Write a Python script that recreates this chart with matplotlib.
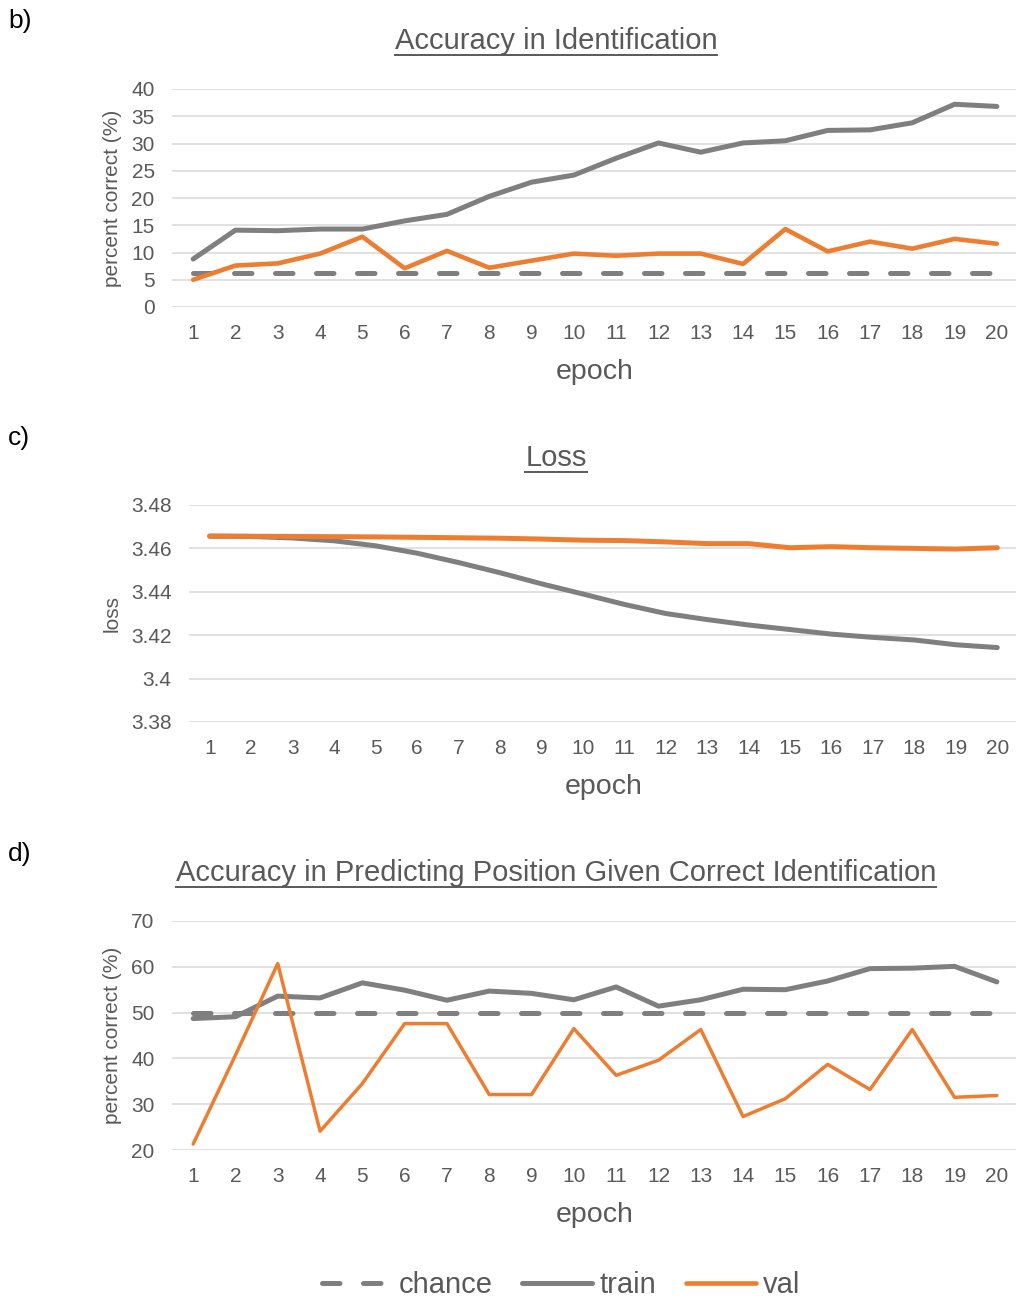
import matplotlib
matplotlib.use("Agg")
import matplotlib.pyplot as plt
from matplotlib.lines import Line2D

# ---- data ----
epochs = list(range(1, 21))

ident_train = [8.8, 14.1, 14.0, 14.3, 14.3, 15.8, 17.0, 20.3, 22.9, 24.2,
               27.3, 30.1, 28.4, 30.1, 30.5, 32.4, 32.5, 33.8, 37.2, 36.8]
ident_val = [5.0, 7.6, 8.0, 9.8, 12.9, 7.1, 10.3, 7.2, 8.5, 9.8,
             9.4, 9.8, 9.8, 7.9, 14.3, 10.2, 12.0, 10.7, 12.5, 11.6]
ident_chance = 6.25

loss_train = [3.4656, 3.4655, 3.4648, 3.4635, 3.4612, 3.4578, 3.4535, 3.4488, 3.4437, 3.4390,
              3.4342, 3.4300, 3.4272, 3.4247, 3.4226, 3.4205, 3.4190, 3.4178, 3.4156, 3.4143]
loss_val = [3.4657, 3.4656, 3.4655, 3.4654, 3.4653, 3.4651, 3.4649, 3.4647, 3.4643, 3.4638,
            3.4636, 3.4630, 3.4622, 3.4622, 3.4603, 3.4608, 3.4603, 3.4600, 3.4597, 3.4603]

pos_train = [48.7, 49.1, 53.6, 53.2, 56.5, 54.9, 52.7, 54.7, 54.2, 52.8,
             55.6, 51.4, 52.8, 55.1, 55.0, 56.9, 59.6, 59.7, 60.1, 56.7]
pos_val = [21.3, 40.7, 60.7, 24.1, 34.5, 47.6, 47.6, 32.1, 32.1, 46.5,
           36.3, 39.6, 46.3, 27.3, 31.2, 38.7, 33.2, 46.3, 31.5, 31.9]
pos_chance = 50.0

ident_ticks = [0, 5, 10, 15, 20, 25, 30, 35, 40]
loss_ticks = [3.38, 3.40, 3.42, 3.44, 3.46, 3.48]
pos_ticks = [20, 30, 40, 50, 60, 70]

# ---- style ----
GRAY = "#7f7f7f"
ORANGE = "#ed7d31"
TEXT = "#595959"
GRID = "#d9d9d9"
DASH = (0, (3.5, 4.7))

plt.rcParams["font.family"] = ["Liberation Sans", "DejaVu Sans"]

W, H = 1016, 1299
fig = plt.figure(figsize=(W / 100, H / 100), dpi=100)


def px_axes(left, top, right, bottom):
    """Add axes given pixel edges (origin top-left)."""
    return fig.add_axes([left / W, 1 - bottom / H, (right - left) / W, (bottom - top) / H])


def style_axes(ax, yticks, ylabel, fmt=None):
    ax.set_xlim(0.5, 20.5)
    ax.set_ylim(yticks[0], yticks[-1])
    ax.set_xticks(epochs)
    ax.set_yticks(yticks)
    if fmt is not None:
        ax.set_yticklabels([fmt(v) for v in yticks])
    for s in ax.spines.values():
        s.set_visible(False)
    ax.grid(axis="y", color=GRID, linewidth=1.1, zorder=0)
    ax.set_axisbelow(True)
    ax.tick_params(length=0, labelsize=15, colors=TEXT)
    ax.tick_params(axis="x", pad=12)
    ax.tick_params(axis="y", pad=12.5)
    ax.set_xlabel("epoch", fontsize=20.5, color=TEXT, labelpad=12)
    ax.set_ylabel(ylabel, fontsize=15, color=TEXT)
    ax.patch.set_alpha(0)


def underlined_title(x, y, text):
    t = fig.text(x / W, 1 - y / H, text, fontsize=21, color=TEXT, ha="center", va="center")
    return t


line_kw = dict(solid_capstyle="round", solid_joinstyle="round")

# b) accuracy in identification
ax_b = px_axes(172, 89, 1018, 307)
ax_b.plot(epochs, [ident_chance] * len(epochs), color=GRAY, lw=3.6, linestyle=DASH,
          dash_capstyle="round", label="chance")
ax_b.plot(epochs, ident_train, color=GRAY, lw=3.6, label="train", **line_kw)
ax_b.plot(epochs, ident_val, color=ORANGE, lw=3.3, label="val", **line_kw)
style_axes(ax_b, ident_ticks, "percent correct (%)")
ax_b.yaxis.set_label_coords((122 - 172) / 846, 0.5)

# c) loss
ax_c = px_axes(189, 505, 1018, 722)
ax_c.plot(epochs, loss_train, color=GRAY, lw=3.6, **line_kw)
ax_c.plot(epochs, loss_val, color=ORANGE, lw=3.6, **line_kw)
style_axes(ax_c, loss_ticks, "loss", fmt=lambda v: f"{v:g}")
ax_c.yaxis.set_label_coords((122 - 189) / 829, 0.5)

# d) accuracy in predicting position
ax_d = px_axes(172, 921, 1018, 1150)
ax_d.plot(epochs, [pos_chance] * len(epochs), color=GRAY, lw=3.6, linestyle=DASH,
          dash_capstyle="round")
ax_d.plot(epochs, pos_train, color=GRAY, lw=3.6, **line_kw)
ax_d.plot(epochs, pos_val, color=ORANGE, lw=2.5, **line_kw)
style_axes(ax_d, pos_ticks, "percent correct (%)")
ax_d.yaxis.set_label_coords((122 - 172) / 846, 0.5)

# titles and panel letters
titles = [
    underlined_title(556, 41, "Accuracy in Identification"),
    underlined_title(556, 458, "Loss"),
    underlined_title(556, 873, "Accuracy in Predicting Position Given Correct Identification"),
]
for letter, y in [("b)", 21), ("c)", 438), ("d)", 854)]:
    fig.text(8 / W, 1 - y / H, letter, fontsize=19, color="black", ha="left", va="center")

# legend
handles, labels = ax_b.get_legend_handles_labels()
fig.legend(handles, labels, loc="center", bbox_to_anchor=(561 / W, 1 - 1285 / H),
           ncol=3, frameon=False, fontsize=21, labelcolor=TEXT, handlelength=2.4,
           handletextpad=0.25, columnspacing=1.0)

# underline the titles
fig.canvas.draw()
renderer = fig.canvas.get_renderer()
for t in titles:
    bb = t.get_window_extent(renderer)
    y_line = bb.y0 + 0.5
    fig.add_artist(Line2D([bb.x0 / W, bb.x1 / W], [y_line / H, y_line / H],
                          color=TEXT, lw=1.4, transform=fig.transFigure))

fig.savefig("out.png", dpi=100)
